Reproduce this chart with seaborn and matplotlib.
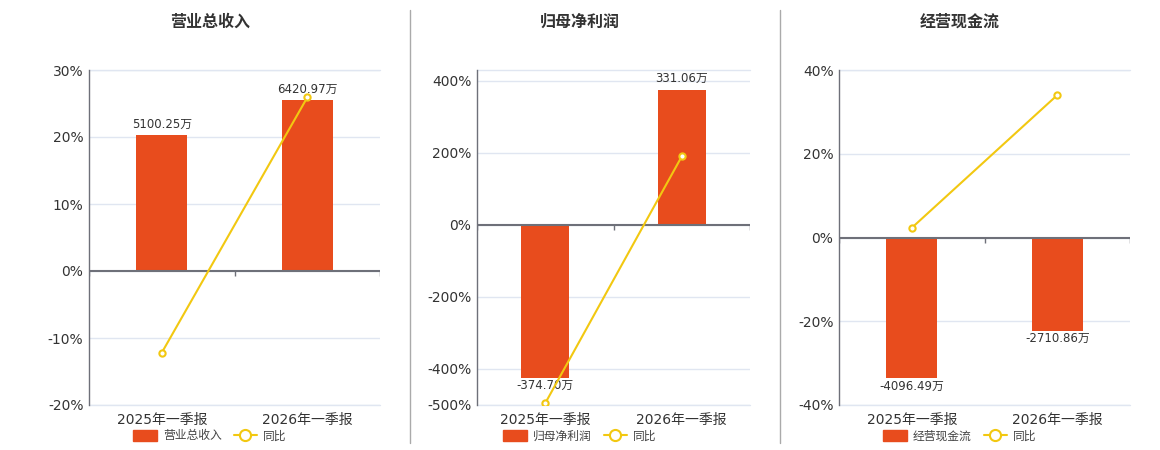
import matplotlib
matplotlib.use("Agg")
import numpy as np
import pandas as pd
import matplotlib.pyplot as plt
import seaborn as sns
from matplotlib.patches import Patch
from matplotlib.lines import Line2D
from matplotlib.ticker import FuncFormatter

sns.set_theme(style="white")
plt.rcParams['font.family'] = ['DejaVu Sans', 'Noto Sans CJK SC']

# data
periods = ["2025年一季报", "2026年一季报"]
titles = ["营业总收入", "归母净利润", "经营现金流"]
revenue = [5100.25, 6420.97]        # 万
net_profit = [-374.70, 331.06]      # 万
cash_flow = [-4096.49, -2710.86]    # 万
revenue_yoy = [-12.2, 25.9]         # %
net_profit_yoy = [-495.0, 190.0]    # %
cash_flow_yoy = [2.3, 34.0]         # %
pct_ticks = [[-20, -10, 0, 10, 20, 30],
             [-500, -400, -200, 0, 200, 400],
             [-40, -20, 0, 20, 40]]

amounts = [revenue, net_profit, cash_flow]
yoys = [revenue_yoy, net_profit_yoy, cash_flow_yoy]

# axis ranges (percent axis / hidden amount axis share zero)
pct_lims = [(-20, 30), (-500, 430), (-40, 40)]
bar_lims = [(-5040, 7560), (-442, 380), (-4880, 4880)]

BAR = "#E84C1D"
LINE = "#F2C811"
GRID = "#E0E6F1"
AXIS = "#6E7079"
TXT = "#333333"

W, H = 1160, 450
fig = plt.figure(figsize=(W / 100, H / 100), dpi=100)
boxes = [(89, 380), (477, 750), (839, 1130)]
centers = [210, 580, 960]
top, bottom = 70, 405

pct_fmt = FuncFormatter(lambda v, p: f"{v:.0f}%")

for i in range(3):
    l, r = boxes[i]
    ax = fig.add_axes([l / W, 1 - bottom / H, (r - l) / W, (bottom - top) / H])
    ax2 = ax.twinx()
    ax3 = ax.twinx()

    df = pd.DataFrame({"period": periods, "amount": amounts[i], "yoy": yoys[i]})

    # bars on the hidden amount axis
    sns.barplot(data=df, x="period", y="amount", ax=ax2, color=BAR,
                width=0.35, saturation=1, linewidth=0)
    ax2.set_ylim(bar_lims[i])
    ax2.set_yticks([])
    ax2.set_ylabel("")
    ax2.set_xlabel("")
    pos_labels = [f"{v:.2f}万" if v > 0 else "" for v in amounts[i]]
    neg_labels = [f"{v:.2f}万" if v < 0 else "" for v in amounts[i]]
    ax2.bar_label(ax2.containers[0], labels=pos_labels, padding=3.5,
                  fontsize=8.5, color=TXT)
    ax2.bar_label(ax2.containers[0], labels=neg_labels, padding=1,
                  fontsize=8.5, color=TXT)

    # yoy line on top
    lo, hi = pct_lims[i]
    ax3.axhline(0, color=AXIS, lw=1.5, zorder=1)
    zero_frac = -lo / (hi - lo)
    ax3.vlines(np.arange(len(periods) + 1) - 0.5, zero_frac - 5 / 335, zero_frac,
               transform=ax3.get_xaxis_transform(), color=AXIS, lw=1, zorder=1)
    sns.lineplot(data=df, x="period", y="yoy", ax=ax3, color=LINE, lw=1.5,
                 marker="o", markersize=4.5, markerfacecolor="white",
                 markeredgecolor=LINE, markeredgewidth=1.5, zorder=3)
    ax3.set_ylim(lo, hi)
    ax3.set_yticks([])
    ax3.set_ylabel("")
    ax3.set_xlabel("")

    # percent axis with grid
    ax.set_ylim(lo, hi)
    ax.set_yticks(pct_ticks[i])
    ax.yaxis.set_major_formatter(pct_fmt)
    ax.yaxis.grid(True, color=GRID, lw=1)
    ax.xaxis.grid(False)
    ax.axhline(hi, color=GRID, lw=1, clip_on=False)
    ax.axhline(lo, color=GRID, lw=1, clip_on=False)
    ax.set_xlim(-0.5, len(periods) - 0.5)
    ax.set_xticks(range(len(periods)))
    ax.set_xticklabels(periods)
    ax.tick_params(axis="y", length=0, pad=4, labelsize=10, labelcolor=TXT)
    ax.tick_params(axis="x", length=0, pad=6, labelsize=10, labelcolor=TXT)
    for a in (ax, ax2, ax3):
        for s in a.spines.values():
            s.set_visible(False)
    ax.spines["left"].set_visible(True)
    ax.spines["left"].set_color(AXIS)
    ax.spines["left"].set_linewidth(1)

    fig.text(centers[i] / W, 1 - 22 / H, titles[i], ha="center", va="center",
             fontsize=11.5, fontweight="bold", color=TXT)

    handles = [Patch(facecolor=BAR, edgecolor=BAR),
               Line2D([], [], color=LINE, lw=1.5, marker="o", markersize=8,
                      markerfacecolor="white", markeredgecolor=LINE,
                      markeredgewidth=1.5)]
    fig.legend(handles, [titles[i], "同比"], loc="center",
               bbox_to_anchor=(centers[i] / W, 1 - 436 / H), ncol=2,
               frameon=False, fontsize=8.5, handlelength=2, handleheight=1,
               columnspacing=1.0, handletextpad=0.5, labelcolor="#444444")

# panel separators
for xs in (410, 780):
    fig.add_artist(Line2D([xs / W, xs / W], [1 - 443 / H, 1 - 10 / H],
                          transform=fig.transFigure, color="#AAAAAA", lw=1))

fig.savefig("out.png", dpi=100)
